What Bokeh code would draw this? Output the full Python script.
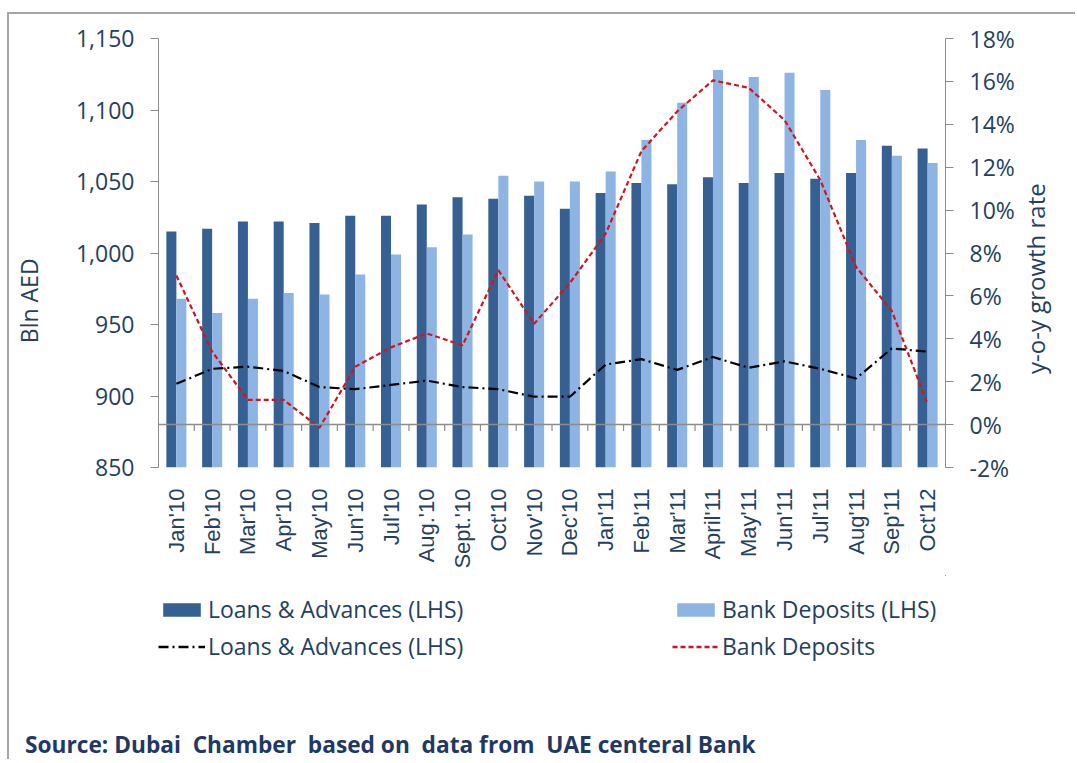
import math
from bokeh.plotting import figure
from bokeh.layouts import column
from bokeh.models import (Range1d, LinearAxis, FixedTicker, CustomJSTickFormatter,
                          NumeralTickFormatter, PrintfTickFormatter, Span, Legend,
                          LegendItem, Div, ColumnDataSource)
from bokeh.embed import file_html
from bokeh.resources import INLINE

months = ["Jan'10", "Feb'10", "Mar'10", "Apr'10", "May'10", "Jun'10", "Jul'10",
          "Aug.'10", "Sept.'10", "Oct'10", "Nov'10", "Dec'10", "Jan'11", "Feb'11",
          "Mar'11", "April'11", "May'11", "Jun'11", "Jul'11", "Aug'11", "Sep'11", "Oct'12"]
loans = [1015, 1017, 1022, 1022, 1021, 1026, 1026, 1034, 1039, 1038, 1040, 1031,
         1042, 1049, 1048, 1053, 1049, 1056, 1052, 1056, 1075, 1073]
deposits = [968, 958, 968, 972, 971, 985, 999, 1004, 1013, 1054, 1050, 1050,
            1057, 1079, 1105, 1128, 1123, 1126, 1114, 1079, 1068, 1063]
loans_growth = [1.9, 2.6, 2.7, 2.5, 1.75, 1.65, 1.85, 2.05, 1.75, 1.65, 1.3, 1.3,
                2.8, 3.05, 2.55, 3.15, 2.65, 2.95, 2.6, 2.15, 3.55, 3.4]
deposits_growth = [6.95, 3.4, 1.15, 1.15, -0.15, 2.7, 3.6, 4.25, 3.7, 7.2, 4.7, 6.6,
                   8.9, 12.75, 14.6, 16.05, 15.7, 14.2, 11.4, 7.35, 5.3, 0.95]
left_ticks = [850, 900, 950, 1000, 1050, 1100, 1150]
right_ticks = [-2, 0, 2, 4, 6, 8, 10, 12, 14, 16, 18]
legend_labels = ["Loans & Advances (LHS)", "Bank Deposits (LHS)",
                 "Loans & Advances (LHS)", "Bank Deposits"]
source_note = "Source: Dubai  Chamber  based on  data from  UAE centeral Bank"
left_title = "Bln AED"
right_title = "y-o-y growth rate"

TXT = "#243F60"
AX = "#8c8c8c"
DARK = "#376092"
LIGHT = "#8EB4E3"
RED = "#D0161C"
FONT = "Open Sans"
DASH_LOANS = "10 4 2 4"
DASH_DEP = "5 3"
NBSP = "\u00a0"

W = 1066
H1 = 561
H2 = 110

n = len(months)
centers = [i + 0.5 for i in range(n)]
src = ColumnDataSource(dict(
    x=centers,
    xl=[c - 0.14 for c in centers],
    xd=[c + 0.14 for c in centers],
    loans=loans, deposits=deposits,
    lg=loans_growth, dg=deposits_growth,
))

p = figure(width=W, height=H1, output_backend="svg", toolbar_location=None,
           x_range=Range1d(0, n), y_range=Range1d(left_ticks[0], left_ticks[-1]),
           min_border_left=149, min_border_right=130, min_border_top=24,
           min_border_bottom=108)
p.extra_y_ranges = {"pct": Range1d(right_ticks[0], right_ticks[-1])}
p.outline_line_color = None
p.xgrid.visible = False
p.ygrid.visible = False
p.background_fill_color = "white"
p.border_fill_color = "white"

p.vbar(x="xl", top="loans", bottom=left_ticks[0], width=0.28, source=src,
       fill_color=DARK, line_color=None)
p.vbar(x="xd", top="deposits", bottom=left_ticks[0], width=0.28, source=src,
       fill_color=LIGHT, line_color=None)

p.add_layout(Span(location=0, dimension="width", y_range_name="pct",
                  line_color=AX, line_width=1.5))
bounds = list(range(1, n + 1))
p.segment(x0=bounds, x1=bounds, y0=[0] * len(bounds), y1=[-0.3] * len(bounds),
          y_range_name="pct", line_color=AX, line_width=1.2)

p.line(x="x", y="lg", source=src, y_range_name="pct", line_color="black",
       line_width=2.2, line_dash=DASH_LOANS)
p.line(x="x", y="dg", source=src, y_range_name="pct", line_color=RED,
       line_width=2.2, line_dash=DASH_DEP)

ya = p.yaxis[0]
ya.ticker = FixedTicker(ticks=left_ticks)
ya.formatter = NumeralTickFormatter(format="0,0")
ya.axis_line_color = AX
ya.major_tick_line_color = AX
ya.major_tick_out = 8
ya.major_tick_in = 0
ya.minor_tick_line_color = None
ya.major_label_text_font = FONT
ya.major_label_text_font_size = "23px"
ya.major_label_text_color = TXT
ya.major_label_standoff = 16
# trailing no-break spaces move the centred title down along the axis
ya.axis_label = left_title + NBSP * 16
ya.axis_label_text_font = FONT
ya.axis_label_text_font_size = "23px"
ya.axis_label_text_font_style = "normal"
ya.axis_label_text_color = TXT
ya.axis_label_standoff = 28

ra = LinearAxis(y_range_name="pct", ticker=FixedTicker(ticks=right_ticks),
                formatter=PrintfTickFormatter(format="%d%%"))
ra.axis_line_color = AX
ra.major_tick_line_color = AX
ra.major_tick_out = 8
ra.major_tick_in = 0
ra.minor_tick_line_color = None
ra.major_label_text_font = FONT
ra.major_label_text_font_size = "23px"
ra.major_label_text_color = TXT
ra.major_label_standoff = 16
ra.axis_label = right_title
ra.axis_label_text_font = FONT
ra.axis_label_text_font_size = "24px"
ra.axis_label_text_font_style = "normal"
ra.axis_label_text_color = TXT
ra.axis_label_standoff = 18
props = ra.properties()
if "axis_label_orientation" in props:
    ra.axis_label_orientation = math.pi / 2
if "axis_label_align" in props:
    ra.axis_label_align = "start"
    ra.axis_label = NBSP * 15 + right_title
p.add_layout(ra, "right")

xa = p.xaxis[0]
xa.ticker = FixedTicker(ticks=centers)
xa.formatter = CustomJSTickFormatter(args=dict(labels=months),
                                     code="return labels[Math.floor(tick)];")
xa.axis_line_color = None
xa.major_tick_line_color = None
xa.minor_tick_line_color = None
xa.major_label_orientation = math.pi / 2
xa.major_label_text_font = "Liberation Sans"
xa.major_label_text_font_size = "22px"
xa.major_label_text_color = TXT
xa.major_label_standoff = 15

# ---- legend strip (its frame is aligned with the chart frame) ----
p2 = figure(width=W, height=H2, output_backend="svg", toolbar_location=None,
            x_range=Range1d(0, n), y_range=Range1d(0, 1),
            x_axis_location=None, y_axis_location=None, min_border=0)
p2.extra_x_ranges = {"offx": Range1d(-2000, -1000)}
p2.extra_y_ranges = {"offy": Range1d(-2000, -1000)}
p2.outline_line_color = None
p2.xgrid.visible = False
p2.ygrid.visible = False
p2.border_fill_color = "white"

# legend proxies: same data, on ranges that keep them out of view
off = dict(source=src, x_range_name="offx", y_range_name="offy")
k1 = p2.vbar(x="xl", top="loans", bottom=left_ticks[0], width=0.28,
             fill_color=DARK, line_color=None, **off)
k2 = p2.vbar(x="xd", top="deposits", bottom=left_ticks[0], width=0.28,
             fill_color=LIGHT, line_color=None, **off)
k3 = p2.line(x="x", y="lg", line_color="black", line_width=2.5,
             line_dash=DASH_LOANS, **off)
k4 = p2.line(x="x", y="dg", line_color=RED, line_width=2.5,
             line_dash=DASH_DEP, **off)

legend = Legend(items=[
    LegendItem(label=legend_labels[0], renderers=[k1]),
    LegendItem(label=legend_labels[1], renderers=[k2]),
    LegendItem(label=legend_labels[2], renderers=[k3]),
    LegendItem(label=legend_labels[3], renderers=[k4]),
], orientation="horizontal", ncols=2, location=(0, 23),
    glyph_width=47, glyph_height=17, label_standoff=3, label_width=459,
    spacing=5, padding=0, margin=0, border_line_color=None,
    background_fill_alpha=0, label_text_font=FONT, label_text_font_size="23px",
    label_text_color=TXT)
p2.add_layout(legend, "center")

note = Div(text=source_note, width=W - 20, height=30, margin=(44, 0, 0, 16),
           styles={"font-family": "Open Sans", "font-weight": "bold",
                   "font-size": "22.7px", "color": "#1F3864", "white-space": "pre"})

layout = column(p, p2, note, spacing=0, margin=(12, 0, 0, 7),
                styles={"border-top": "2px solid #a6a6a6",
                        "border-left": "2px solid #a6a6a6"})

open("out.html", "w").write(file_html(layout, INLINE))
